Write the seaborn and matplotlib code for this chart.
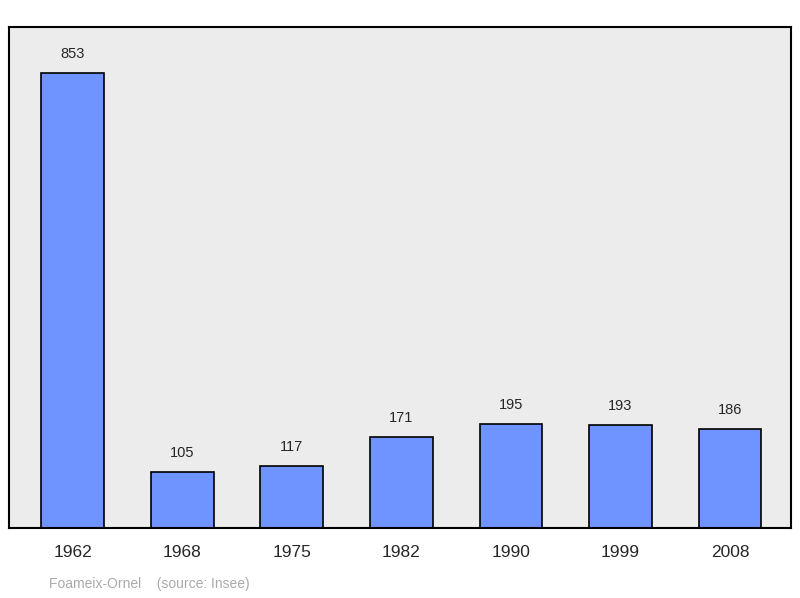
import matplotlib
matplotlib.use("Agg")
import matplotlib.pyplot as plt
import seaborn as sns
import pandas as pd

years = ["1962", "1968", "1975", "1982", "1990", "1999", "2008"]
population = [853, 105, 117, 171, 195, 193, 186]

df = pd.DataFrame({"year": years, "pop": population})

sns.set_style("white")
plt.rcParams['font.family'] = ['Liberation Sans', 'DejaVu Sans']

fig = plt.figure(figsize=(8, 5.98), dpi=100)
ax = fig.add_axes([9 / 800, 1 - 528 / 598, 782 / 800, 501 / 598])
ax.set_facecolor("#ececec")

sns.barplot(data=df, x="year", y="pop", color="#7094ff", saturation=1,
            width=0.575, edgecolor="black", linewidth=1.2, ax=ax)

for i, v in enumerate(population):
    ax.text(i, v + 22, str(v), ha="center", va="bottom", fontsize=10.5)

ax.set_xlim(-0.584, 6.557)
ax.set_ylim(0, 939)
ax.set_yticks([])
ax.set_xlabel("")
ax.set_ylabel("")
ax.tick_params(axis="x", length=0, labelsize=12.5, pad=12)
for s in ax.spines.values():
    s.set_linewidth(1.5)
    s.set_color("black")

fig.text(49 / 800, 1 - 584 / 598, "Foameix-Ornel    (source: Insee)",
         fontsize=10, color="#aaaaaa", va="center")

fig.savefig("out.png", dpi=100)
